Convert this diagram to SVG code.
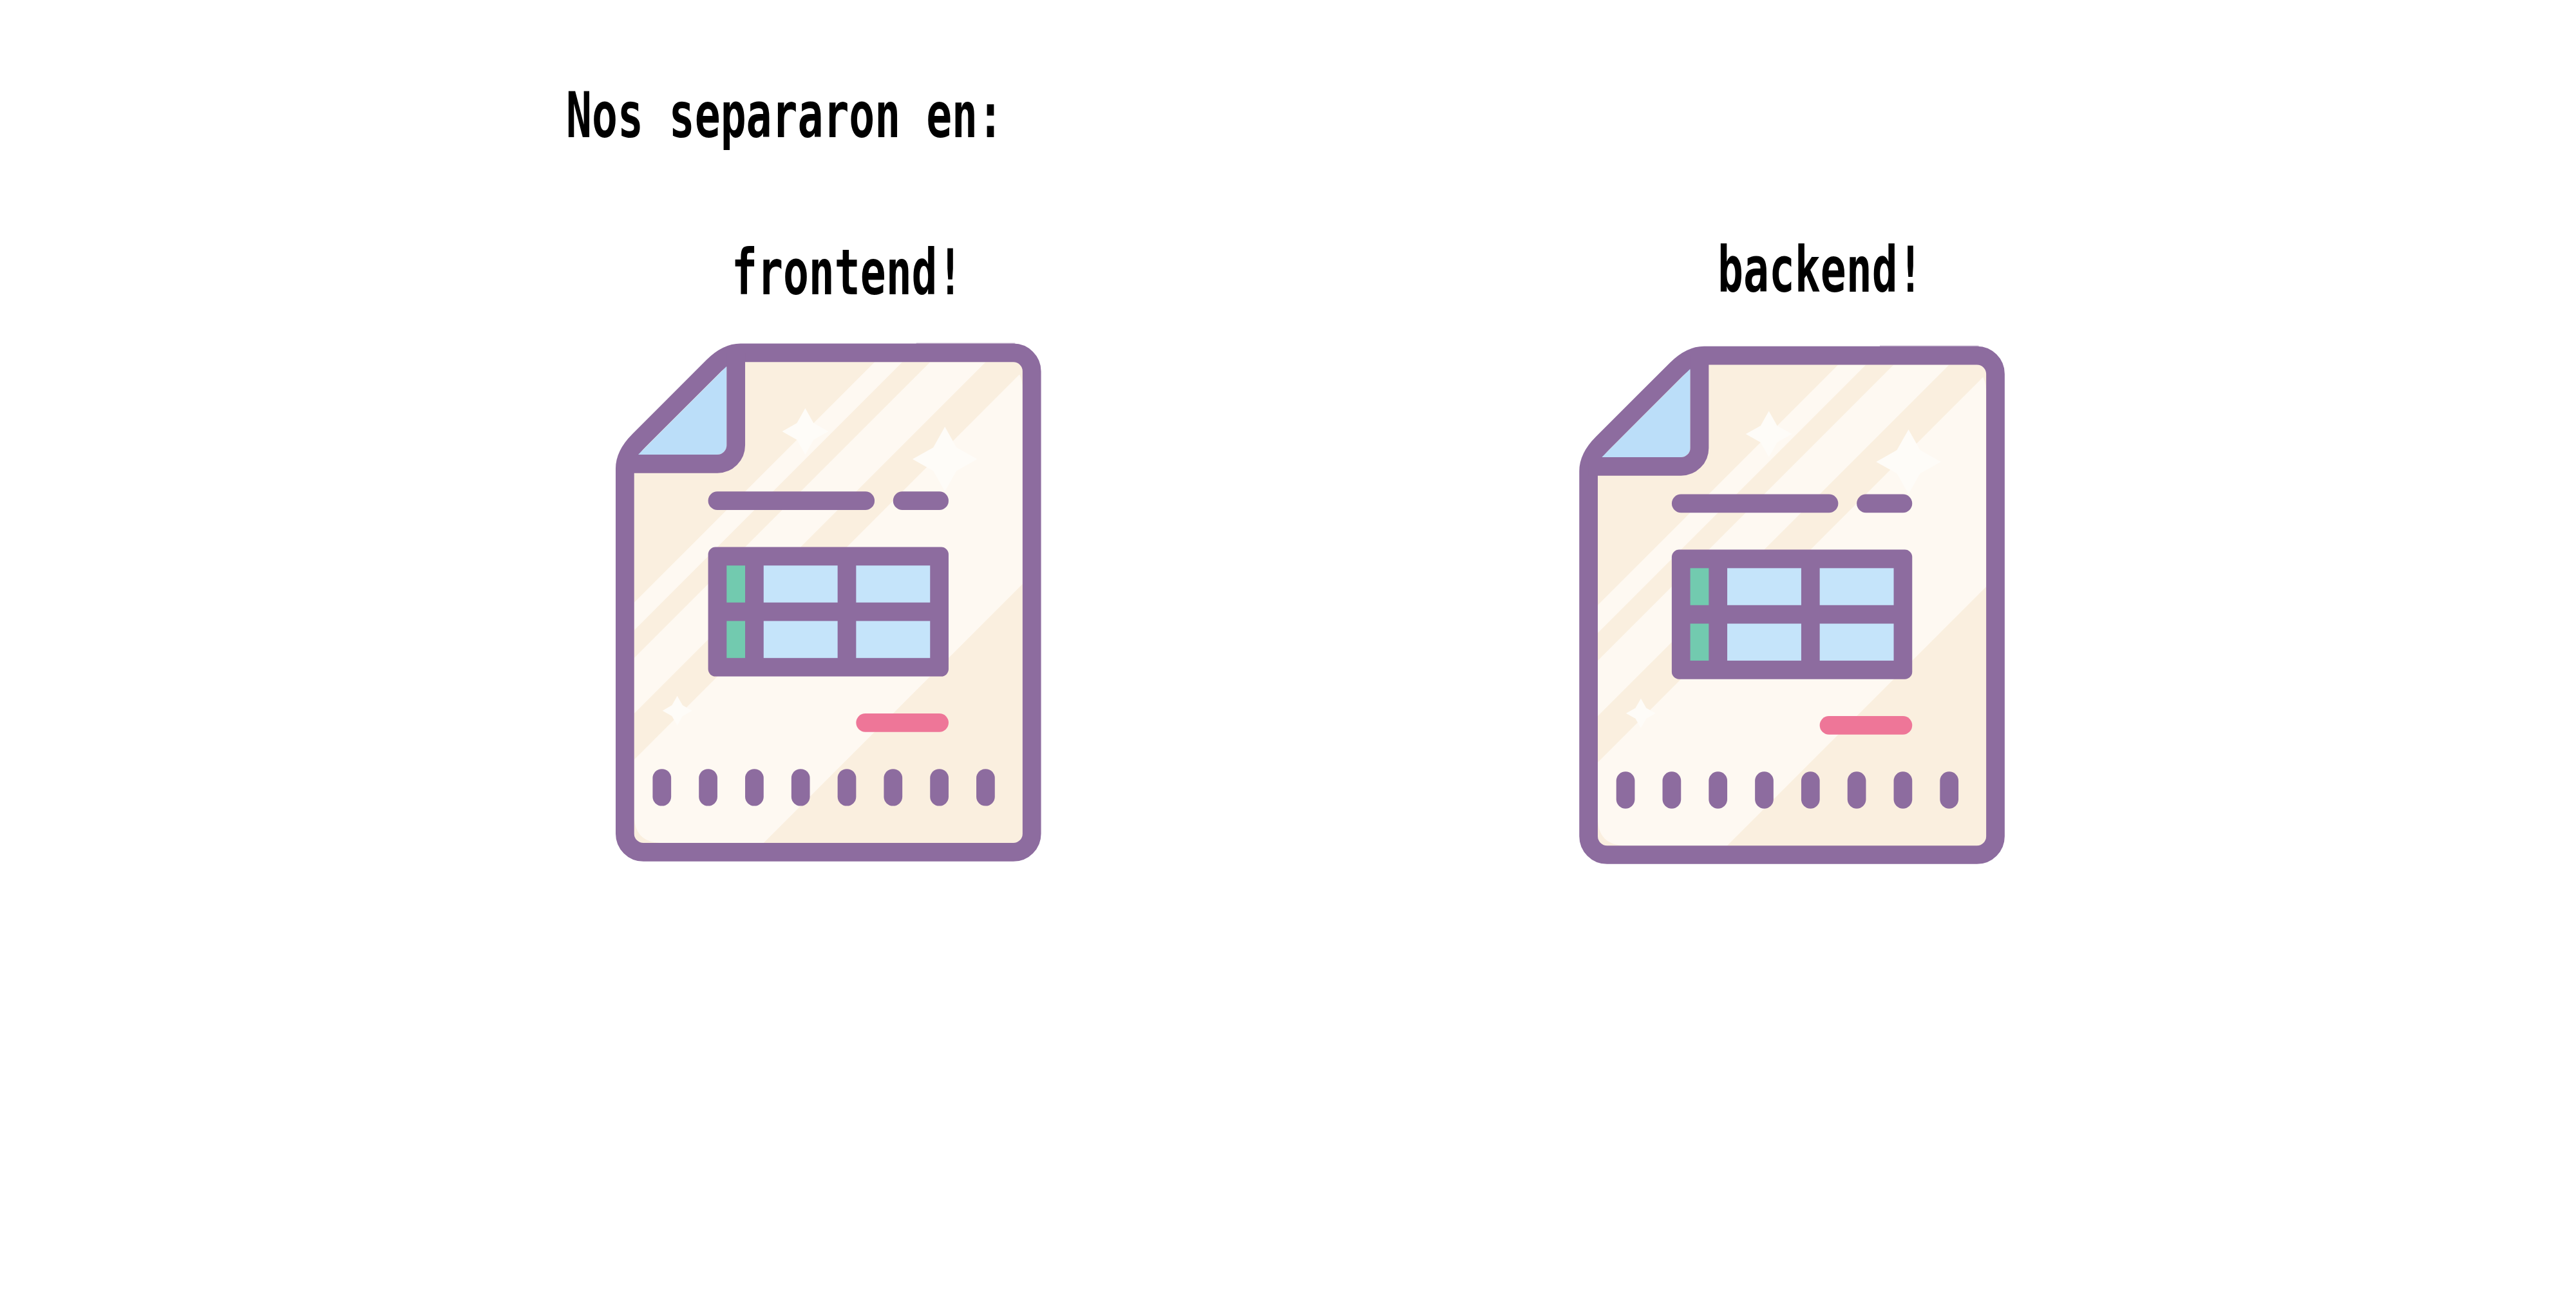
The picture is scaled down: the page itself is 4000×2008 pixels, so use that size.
<svg xmlns="http://www.w3.org/2000/svg" width="4000" height="2008" viewBox="0 0 4000 2008">
<style>
.t{font-family:"DejaVu Sans Mono","Liberation Mono",monospace;font-size:98.6px;font-weight:700;fill:#000}
.p{fill:#8d6c9f}
.l{fill:#fef9f2}
.s{fill:#fefcf8}
.b{fill:#c5e4fa}
.g{fill:#72caaf}
.o{fill:none;stroke:#8d6c9f;stroke-width:2}
</style>
<defs>
<clipPath id="paper"><path d="M2 14L13 2H41Q44 2 44 5V51Q44 54 41 54H5Q2 54 2 51Z"/></clipPath>
<g id="doc">
<path d="M1 13.5C1 12.3 1.8 11.2 2.5 10.5L10.5 2.5C11.2 1.8 12.3 1 13.5 1H43A2 2 0 0 1 45 3V53A2 2 0 0 1 43 55H3A2 2 0 0 1 1 53Z" fill="#faefdf"/>
<g clip-path="url(#paper)">
<path class="l" d="M30 0H33L-10 43V40ZM36 0H42L-10 52V46ZM47 0H70L15 55H-8Z"/>
</g>
<path class="s" d="M20.5 7L21.4 8.6 23 9.5 21.4 10.4 20.5 12 19.6 10.4 18 9.5 19.6 8.6Z"/>
<path class="s" d="M35.6 9L36.86 11.24 39.1 12.5 36.86 13.76 35.6 16 34.34 13.76 32.1 12.5 34.34 11.24Z"/>
<path class="s" d="M6.66 38.1L7.24 39.12 8.26 39.7 7.24 40.28 6.66 41.3 6.08 40.28 5.06 39.7 6.08 39.12Z"/>
<path class="o" d="M1 13.5C1 12.3 1.8 11.2 2.5 10.5L10.5 2.5C11.2 1.8 12.3 1 13.5 1H43A2 2 0 0 1 45 3V53A2 2 0 0 1 43 55H3A2 2 0 0 1 1 53Z"/>
<path d="M12 2.44V11A1 1 0 0 1 11 12H2.44Z" fill="#bbdef9"/>
<path class="o" d="M13 1V11A2 2 0 0 1 11 13H1"/>
<rect class="p" x="32.5" y="-.07" width="10.7" height=".07" opacity=".6"/>
<rect class="p" x="10" y="16" width="18" height="2" rx="1"/>
<rect class="p" x="30" y="16" width="6" height="2" rx="1"/>
<rect class="p" x="10" y="22" width="26" height="14" rx=".8"/>
<rect class="g" x="12" y="24" width="2" height="4"/>
<rect class="b" x="16" y="24" width="8" height="4"/>
<rect class="b" x="26" y="24" width="8" height="4"/>
<rect class="g" x="12" y="30" width="2" height="4"/>
<rect class="b" x="16" y="30" width="8" height="4"/>
<rect class="b" x="26" y="30" width="8" height="4"/>
<rect x="26" y="40" width="10" height="2" rx="1" fill="#ee7698"/>
<rect class="p" x="4" y="46" width="2" height="4" rx="1"/>
<rect class="p" x="9" y="46" width="2" height="4" rx="1"/>
<rect class="p" x="14" y="46" width="2" height="4" rx="1"/>
<rect class="p" x="19" y="46" width="2" height="4" rx="1"/>
<rect class="p" x="24" y="46" width="2" height="4" rx="1"/>
<rect class="p" x="29" y="46" width="2" height="4" rx="1"/>
<rect class="p" x="34" y="46" width="2" height="4" rx="1"/>
<rect class="p" x="39" y="46" width="2" height="4" rx="1"/>
</g>
</defs>
<rect width="4000" height="2008" fill="#fff"/>
<g id="title"><text class="t" transform="translate(879 212.7) scale(.673 1)">Nos separaron en:</text></g>
<g id="frontend">
<text class="t" transform="translate(1136 456.7) scale(.673 1)">frontend!</text>
<use href="#doc" transform="translate(956 533.6) scale(14.36)"/>
</g>
<g id="backend">
<text class="t" transform="translate(2667 452.7) scale(.673 1)">backend!</text>
<use href="#doc" transform="translate(2452.3 537.7) scale(14.36)"/>
</g>
<g id="connectors"/>
</svg>
